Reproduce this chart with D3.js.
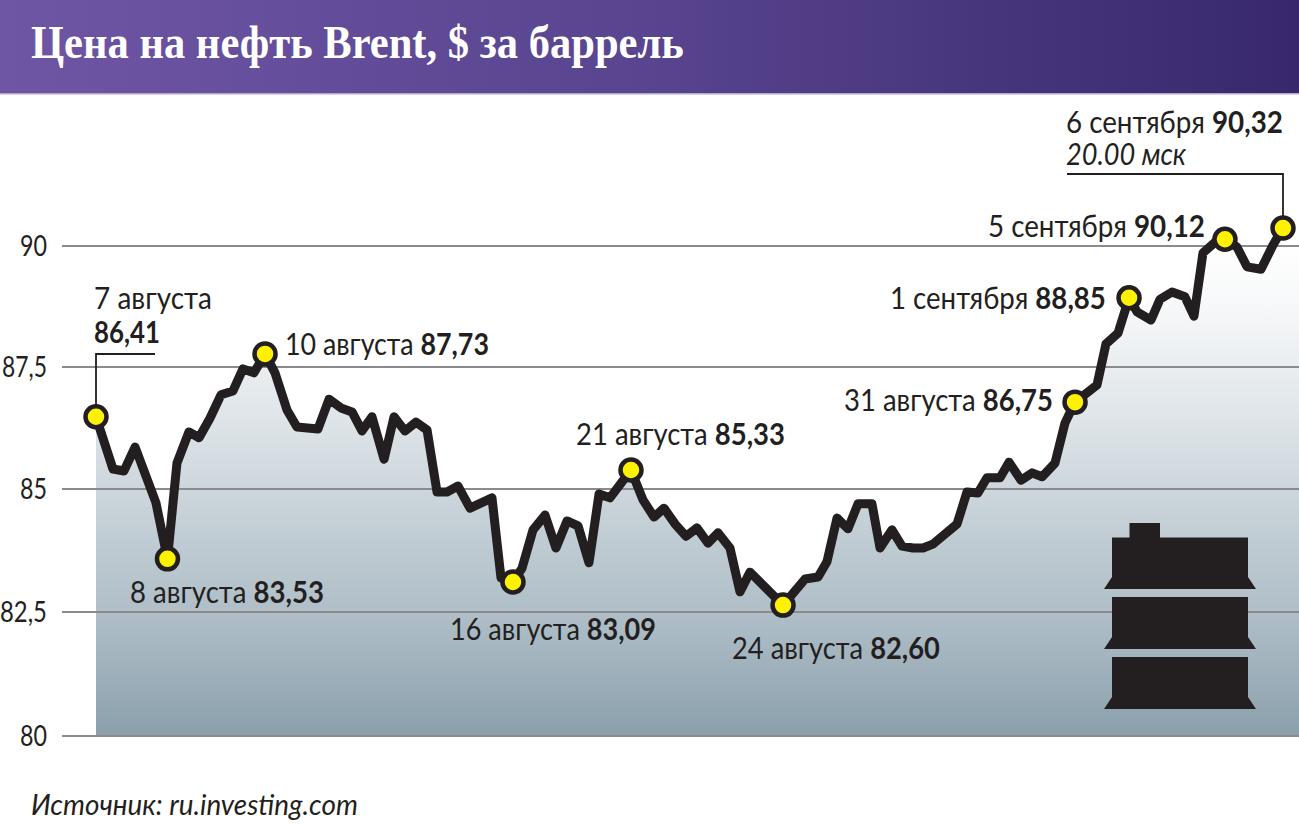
<!DOCTYPE html>
<html><head><meta charset="utf-8">
<style>html,body{margin:0;padding:0;background:#fff;overflow:hidden}svg{display:block}text{fill:#231f20;font-family:Lato,"Noto Sans",sans-serif}</style>
<script src="https://cdn.jsdelivr.net/npm/d3@7"></script></head><body>
<svg id="c" width="1299" height="839"></svg>
<script>
const titleText = "Цена на нефть Brent, $ за баррель";
const sourceText = "Источник: ru.investing.com";
const tickValues = [80, 82.5, 85, 87.5, 90];
const tickLabels = ["80", "82,5", "85", "87,5", "90"];
const tickW = [27,47,27,45,27];
// position along the period, percent from 7 August to 6 September 20:00
const periodPct = [0,1.43,2.36,3.29,5.05,6.02,6.82,7.83,8.68,9.60,10.53,11.54,12.38,13.31,14.24,15.08,16.09,16.93,18.70,19.63,20.64,21.57,22.41,23.25,24.27,25.11,26.03,26.96,27.89,28.73,29.57,30.50,31.51,33.36,34.12,35.13,35.89,36.82,37.83,38.75,39.68,40.61,41.53,42.38,43.30,45.07,46.08,47.01,47.85,48.78,49.71,50.63,51.56,52.40,53.41,54.25,55.10,57.88,59.73,60.83,61.58,62.43,63.35,64.20,65.37,66.05,67.06,67.90,68.83,69.67,70.51,72.54,73.38,74.30,75.06,76.16,76.92,77.93,78.86,79.70,80.79,81.63,82.48,84.33,85.09,86.10,87.03,87.70,88.88,89.64,90.65,91.74,92.50,93.26,94.19,95.11,96.12,96.97,98.15,99.16,100];
const price = [86.48,85.41,85.37,85.86,84.72,83.58,85.53,86.17,86.05,86.45,86.93,87.01,87.46,87.38,87.77,87.38,86.62,86.27,86.23,86.84,86.66,86.58,86.19,86.48,85.61,86.48,86.19,86.37,86.21,84.94,84.94,85.06,84.61,84.82,83.19,83.11,83.39,84.17,84.47,83.80,84.35,84.25,83.50,84.90,84.82,85.39,84.78,84.43,84.61,84.29,84.04,84.21,83.90,84.11,83.80,82.91,83.31,82.64,83.17,83.21,83.52,84.41,84.19,84.70,84.70,83.80,84.17,83.84,83.80,83.80,83.88,84.29,84.94,84.92,85.23,85.23,85.55,85.18,85.33,85.25,85.53,86.35,86.78,87.13,87.98,88.20,88.93,88.64,88.47,88.90,89.05,88.95,88.55,89.86,90.06,90.14,89.98,89.57,89.52,90.02,90.37];
const markerPct = [0,6.02,14.24,35.13,45.07,57.88,82.48,87.03,95.11,100];
const labelDates = ["8 августа","10 августа","16 августа","21 августа","24 августа","31 августа","1 сентября","5 сентября","6 сентября"];
const labelValues = ["83,53","87,73","83,09","85,33","82,60","86,75","88,85","90,12","90,32"];
const labelX = [130,285,450,576,732,844,890,988,1066];
const labelY = [602,354,639,444,658,410,308,236,132];
const labelW = [194,204,206,209,208,209,216,217,217];

const svg = d3.select("#c");
const ink = "#231f20";
const x = d3.scaleLinear().domain([0,100]).range([96,1283]);
const y = d3.scaleLinear().domain(tickValues).range([736,612,489,367,246]);
const pts = periodPct.map((t,i)=>({t,v:price[i]}));

const defs = svg.append("defs");
const hg = defs.append("linearGradient").attr("id","hdr").attr("x1",0).attr("x2",1).attr("y1",0).attr("y2",0);
hg.append("stop").attr("offset",0).attr("stop-color","#6f56a5");
hg.append("stop").attr("offset",0.5).attr("stop-color","#58448f");
hg.append("stop").attr("offset",1).attr("stop-color","#38286b");
const ag = defs.append("linearGradient").attr("id","fillg").attr("gradientUnits","userSpaceOnUse").attr("x1",0).attr("x2",0).attr("y1",y(90)).attr("y2",y(80));
[[0,"#ffffff"],[0.12,"#f7f8f9"],[0.35,"#dfe5e9"],[0.6,"#c0ccd3"],[0.8,"#a9b9c3"],[1,"#8a9fac"]].forEach(s=>ag.append("stop").attr("offset",s[0]).attr("stop-color",s[1]));

// header
svg.append("rect").attr("width",1299).attr("height",94).attr("fill","url(#hdr)");
svg.append("rect").attr("y",93).attr("width",1299).attr("height",1.5).attr("fill","#b3a6cf");

// area
const area = d3.area().x(d=>x(d.t)).y0(y(80)).y1(d=>y(d.v));
svg.append("path").datum(pts).attr("d",area).attr("fill","url(#fillg)");
svg.append("rect").attr("x",x(100)).attr("y",y(d3.max(price))).attr("width",1299-x(100)).attr("height",y(80)-y(d3.max(price))).attr("fill","url(#fillg)");

// grid + tick labels
svg.selectAll("line.g").data(tickValues).join("line").attr("class","g")
  .attr("x1",62).attr("x2",1299).attr("y1",d=>y(d)).attr("y2",d=>y(d))
  .attr("stroke","#8b8b8f").attr("stroke-width",2);

// barrel icon
const barrel = svg.append("g").attr("fill",ink);
barrel.append("rect").attr("x",1129.5).attr("y",523).attr("width",30.5).attr("height",16);
[[537.5,577,589],[597,637,649],[657,697,709]].forEach(([a,b,c])=>{
  barrel.append("path").attr("d",`M1112 ${a}H1248V${b}L1256 ${c}H1104L1112 ${b}Z`);
});

// leader lines
svg.append("path").attr("d",`M155 354H${x(0)}V${y(price[0])}`).attr("fill","none").attr("stroke",ink).attr("stroke-width",1.8);
svg.append("path").attr("d",`M1067 174H${x(100)}V${y(price[price.length-1])}`).attr("fill","none").attr("stroke",ink).attr("stroke-width",1.8);

// price line
svg.append("path").datum(pts).attr("d",d3.line().x(d=>x(d.t)).y(d=>y(d.v)))
  .attr("fill","none").attr("stroke",ink).attr("stroke-width",9).attr("stroke-linejoin","round");

// markers
svg.selectAll("circle.m").data(pts.filter(d=>markerPct.includes(d.t))).join("circle").attr("class","m")
  .attr("cx",d=>x(d.t)).attr("cy",d=>y(d.v)).attr("r",10.5)
  .attr("fill","#fff200").attr("stroke",ink).attr("stroke-width",4.5);

// text helper: place at x,baseline and squeeze to target width
function fit(sel,px,py,w){
  const len = sel.node().getComputedTextLength();
  sel.attr("transform",`translate(${px},${py}) scale(${w/len},1)`);
  return sel;
}
tickValues.forEach((v,i)=>{
  fit(svg.append("text").attr("font-size",29).text(tickLabels[i]),47-tickW[i],y(v)+9.5,tickW[i]);
});
labelDates.forEach((d,i)=>{
  const t = svg.append("text").attr("class","lab").attr("font-size",30);
  t.append("tspan").text(d+" ");
  t.append("tspan").attr("font-weight",700).text(labelValues[i]);
  fit(t,labelX[i],labelY[i]+0.5,labelW[i]);
});
fit(svg.append("text").attr("font-size",30).text("7 августа"),94,308.5,118);
fit(svg.append("text").attr("font-size",30).attr("font-weight",700).text("86,41"),94,342.5,66);
fit(svg.append("text").attr("font-size",30).attr("font-style","italic").text("20.00 мск"),1066,165,120);
fit(svg.append("text").attr("font-size",28).attr("font-style","italic").text(sourceText),31,815,327);
fit(svg.append("text").attr("font-size",47).attr("font-weight",700).style("font-family","'Liberation Serif',serif").style("fill","#fff").text(titleText),31,58,653);
</script></body></html>
